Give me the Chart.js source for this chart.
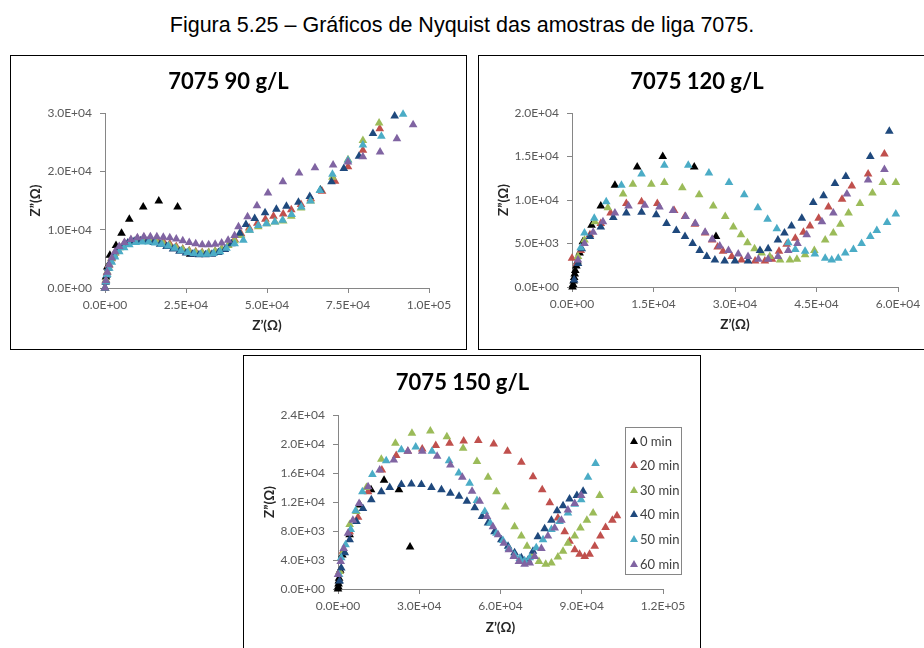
<!DOCTYPE html>
<html>
<head>
<meta charset="utf-8">
<script src="https://cdn.jsdelivr.net/npm/chart.js@4/dist/chart.umd.min.js"></script>
<style>
    html, body { margin: 0; padding: 0; background: #fff; }
    body { width: 924px; height: 648px; position: relative; overflow: hidden; }
    #fig-title {
        position: absolute; left: 0; top: 10px; width: 924px;
        text-align: center; font-family: 'Liberation Sans', Arial, sans-serif;
        font-size: 21.5px; line-height: 30px; color: #000;
    }
    .box { position: absolute; border: 1px solid #000; background: #fff; overflow: hidden; }
    .box canvas { position: absolute; left: 0; top: 0; }
    .legend {
        position: absolute; border: 1px solid #868686; background: #fff;
        font-family: Lato, 'Open Sans', sans-serif; font-size: 13px; color: #404040;
        box-sizing: border-box; padding-top: 0.7px;
    }
    .legend div { height: 24.6px; line-height: 24.6px; position: relative; padding-left: 14px; white-space: nowrap; }
    .legend span.tri {
        position: absolute; left: 4px; top: 8px; width: 0; height: 0;
        border-left: 4px solid transparent; border-right: 4px solid transparent;
        border-bottom: 7px solid #000;
    }
</style>
</head>
<body>
<div id="fig-title">Figura 5.25 – Gráficos de Nyquist das amostras de liga 7075.</div>

<div class="box" style="left:10px; top:55px; width:455px; height:293px;">
    <canvas id="chart90" width="455" height="293"></canvas>
</div>
<div class="box" style="left:478px; top:55px; width:454px; height:293px;">
    <canvas id="chart120" width="454" height="293"></canvas>
</div>
<div class="box" style="left:243px; top:355px; width:456px; height:298px;">
    <canvas id="chart150" width="456" height="298"></canvas>
    <div class="legend" id="legend150" style="left:381px; top:71px; width:57px; height:148px;"></div>
</div>

<script>
const seriesLabels = ['0 min', '20 min', '30 min', '40 min', '50 min', '60 min'];
const seriesColors = ['#000000', '#C0504D', '#9BBB59', '#1F497D', '#4BACC6', '#8064A2'];

// 7075 90 g/L  -  [Z', Z''] em ohm
const g90_0 = [[0,0],[300,1900],[700,3600],[1500,5600],[3400,7300],[5100,9400],[7500,11800],[11800,13900],[16600,14900],[22400,13900],[26300,5800]];
const g90_20 = [[0,0],[200,1200],[600,2600],[1200,3900],[2000,5000],[3000,6000],[4500,7000],[6000,7700],[8000,8200],[10000,8500],[12000,8600],[14000,8500],[16000,8300],[18000,8000],[20000,7600],[22000,7100],[24000,6700],[26000,6400],[28000,6200],[30000,6100],[32000,6100],[34000,6300],[36000,6700],[38000,7300],[40000,8300],[42000,9300],[44500,10300],[47000,11100],[49500,11800],[52000,12300],[55000,12700],[57500,13400],[60500,14300],[63500,15300],[67000,16600],[71000,18300],[75000,20800],[79600,23600],[84800,27300]];
const g90_30 = [[0,0],[300,1400],[700,2800],[1300,4000],[2100,5100],[3200,6000],[4600,6900],[6200,7500],[8000,7900],[10000,8100],[12000,8200],[14000,8100],[16000,7900],[18000,7600],[20000,7300],[22000,6900],[24000,6600],[26000,6300],[28000,6100],[30000,6000],[32000,6100],[34000,6300],[36000,6700],[38000,7300],[40000,8100],[42000,9000],[44500,9900],[47300,10500],[50000,11000],[52500,11300],[55000,11500],[57500,12300],[60500,13700],[63500,14900],[66500,16800],[70200,19000],[75000,22000],[79600,25300],[84600,28300]];
const g90_40 = [[0,0],[200,1000],[500,2200],[1000,3400],[1800,4600],[2800,5600],[4000,6500],[5500,7200],[7000,7700],[9000,8000],[11000,8100],[13000,8000],[15000,7800],[17000,7500],[19000,7100],[21000,6700],[23000,6300],[25000,6000],[27000,5800],[29000,5700],[31000,5700],[33000,5800],[35000,6100],[37000,6600],[39000,7600],[41600,9400],[43500,10900],[46200,11900],[49400,12900],[52900,13500],[56000,14000],[59700,14700],[63200,15700],[66500,16800],[69900,18200],[73700,20500],[78400,22600],[82700,26500],[89400,29500]];
const g90_50 = [[0,0],[300,1100],[700,2300],[1300,3400],[2100,4400],[3100,5300],[4400,6200],[5900,6900],[7500,7400],[9500,7800],[11500,7900],[13500,7900],[15500,7700],[17500,7500],[19500,7200],[21500,6800],[23500,6400],[25500,6100],[27500,5900],[29500,5800],[31500,5800],[33500,5900],[35500,6200],[37500,6800],[40000,7600],[42700,8200],[44700,9900],[47300,10700],[49800,11000],[52400,11300],[54800,11600],[57600,12600],[60600,13900],[63400,14900],[66300,16700],[70200,19500],[75000,21900],[79600,24500],[85300,26000],[92000,29800]];
const g90_60 = [[0,0],[300,1300],[700,2700],[1300,4000],[2100,5200],[3100,6200],[4400,7100],[6000,7800],[8000,8300],[10000,8600],[12000,8800],[14000,8800],[16000,8800],[18000,8700],[20000,8600],[22000,8400],[24000,8100],[26000,7800],[28000,7600],[30000,7400],[32000,7400],[34000,7500],[36000,7700],[38000,8200],[40000,9000],[41200,10500],[44000,12200],[46900,14100],[50300,16300],[54900,18200],[59900,19700],[64800,20600],[70400,21100],[75000,21600],[79600,22500],[84900,23300],[90100,25600],[95100,28000]];

// 7075 120 g/L
const g120_0 = [[100,0],[200,300],[300,700],[400,1100],[500,1500],[600,1900],[800,2400],[1000,2900],[1400,3900],[2000,5200],[3600,7100],[5300,9300],[7900,11700],[12000,13800],[16700,15000],[22500,13800],[26500,5800]];
const g120_20 = [[0,3300],[900,2700],[1600,4200],[3300,6000],[5300,7300],[7100,8500],[10000,9600],[12800,9800],[15700,9600],[18800,8800],[20800,8100],[22600,7200],[24500,6200],[25800,5400],[26800,4600],[27800,4100],[29400,3500],[31200,3100],[33700,3000],[35500,3000],[36800,3200],[38100,4100],[39500,4900],[41100,5600],[42600,6300],[43800,7000],[45400,7900],[47200,9200],[49700,10100],[51500,11600],[54500,13000],[57500,15300]];
const g120_30 = [[1100,3500],[2300,5400],[4200,7500],[6600,9100],[9400,10700],[11200,11800],[14600,11800],[17000,12000],[20300,11400],[23400,10600],[26000,9300],[28200,8100],[29700,6900],[31100,6000],[32300,5100],[33600,4400],[34900,3900],[36400,3500],[38300,3100],[40100,3100],[41400,3200],[42900,3700],[44600,4200],[46600,5400],[48100,6200],[49400,7200],[50900,8500],[53000,9600],[55300,10800],[57200,12000],[59600,12000]];
const g120_40 = [[400,800],[1100,2700],[1800,4400],[3300,5800],[5300,6900],[7600,8000],[10000,8500],[12800,8600],[15500,8300],[17400,7300],[19200,6500],[20800,5800],[22200,5000],[23500,4200],[24800,3500],[26300,3100],[28100,3000],[30000,3000],[32400,3000],[34600,4200],[36100,4400],[37900,5400],[39100,6200],[40400,7000],[42300,7900],[44400,9700],[46300,10500],[48400,11900],[50400,12700],[54900,15000],[58400,17900]];
const g120_50 = [[1600,4500],[2300,6200],[4100,7900],[6300,9800],[9100,11700],[12800,13000],[17000,14000],[21400,14000],[25200,13100],[28900,12000],[31700,10600],[34200,9100],[36000,7800],[37700,6700],[39800,5100],[41100,4300],[42900,4100],[44700,3800],[46600,3300],[47800,3100],[49000,3300],[50300,3900],[51800,4300],[53300,5000],[54900,5800],[56100,6500],[58000,7400],[59600,8400]];
const g120_60 = [[1100,3100],[2300,5000],[3900,6300],[5700,7500],[7900,8500],[10400,9300],[13400,9400],[16100,9200],[18600,8800],[20900,8100],[22700,7300],[24500,6300],[25800,5500],[27200,4700],[28800,4200],[30600,3800],[32400,3500],[34300,3200],[36100,3200],[37900,3500],[39800,4200],[41500,5000],[43200,6000],[46000,7500],[48100,8500],[50600,10700],[54500,12300],[57500,13500]];

// 7075 150 g/L
const g150_0 = [[0,0],[100,300],[200,700],[300,1100],[400,1500],[800,2600],[1600,4700],[4300,7500],[8100,11600],[12200,13700],[17000,15000],[22500,13700],[26600,5800]];
const g150_20 = [[600,2400],[1800,5200],[4300,7900],[7400,9900],[11100,13400],[16200,16400],[21500,18400],[25800,19000],[31100,19300],[36100,19800],[41200,20100],[46400,20400],[51800,20500],[57500,20000],[62600,19000],[67700,17500],[72000,15500],[75400,13700],[78200,11900],[81200,9800],[83700,7900],[85500,6600],[87400,5400],[89200,4800],[91100,4500],[92900,4800],[94800,5900],[96900,7300],[98800,8500],[101300,9500],[103000,10100]];
const g150_30 = [[600,2400],[2100,5200],[4300,8900],[6800,10700],[10500,14000],[16000,17900],[21200,20100],[27300,21500],[34100,21800],[40200,21000],[46200,19400],[51300,17600],[55400,15400],[58500,13400],[61800,11300],[65200,8600],[67700,7300],[69800,5900],[72000,4700],[74200,3800],[76700,3400],[78800,3600],[81200,4400],[83100,5200],[84900,6300],[87400,7300],[89500,8400],[91900,9500],[94200,10500],[96600,12900]];
const g150_40 = [[600,1100],[1200,2900],[2500,5000],[4300,6800],[6800,9300],[9200,11100],[12300,12300],[16000,13400],[19100,14000],[23400,14400],[27100,14500],[30800,14400],[34500,14000],[38200,13700],[41500,13200],[44700,12800],[47600,12100],[50500,11200],[53200,10000],[55400,9100],[57800,7900],[60300,6800],[62800,5900],[65200,5000],[67700,4300],[70200,4000],[72000,5200],[73800,7200],[76300,8300],[78800,9500],[80900,10800],[83100,11500],[85500,12400],[88200,12900],[90500,13500]];
const g150_50 = [[400,2000],[1200,4300],[2800,6100],[4700,8200],[6500,10800],[9000,13400],[12700,15800],[17800,17700],[23400,19200],[28700,19600],[34700,19000],[41000,17700],[44600,16000],[48600,14600],[51300,12200],[54200,10700],[56200,9100],[58500,7700],[60900,6700],[63100,5600],[65200,4700],[67100,4200],[68900,3900],[70800,4300],[73200,5700],[75700,6800],[78800,8200],[81800,9300],[84900,10500],[87400,11700],[89800,12300],[92300,15400],[95100,17300]];
const g150_60 = [[0,2000],[1000,3800],[2100,5600],[3700,7700],[5500,9500],[7800,11800],[11100,14100],[15400,16400],[20600,17800],[25800,19000],[31100,19000],[36600,18300],[41500,17100],[45900,15400],[49500,13500],[52300,12100],[55000,10000],[57200,8600],[59100,7500],[61200,6300],[63100,5400],[64900,4500],[66800,3800],[68900,3400],[70800,3600],[72600,4500],[75100,5600],[77500,7300],[80000,8400],[82500,9500],[84900,10900],[87400,11800],[89800,12900]];

const xTicks90 = { max: 100000, step: 25000 };
const yTicks90 = { max: 30000, step: 10000 };
const xTicks120 = { max: 60000, step: 15000 };
const yTicks120 = { max: 20000, step: 5000 };
const xTicks150 = { max: 120000, step: 30000 };
const yTicks150 = { max: 24000, step: 4000 };

const chartFont = "Lato, 'Open Sans', sans-serif";
const axisColor = '#868686';

function sciLabel(v) {
    const parts = Number(v).toExponential(1).split('e');
    const exp = parts[1];
    return parts[0] + 'E' + exp[0] + exp.slice(1).padStart(2, '0');
}

function buildDatasets(seriesList) {
    return seriesList.map((pts, i) => ({
        label: seriesLabels[i],
        data: pts.map(p => ({ x: p[0], y: p[1] })),
        backgroundColor: seriesColors[i],
        borderColor: seriesColors[i],
        borderWidth: 0,
        pointStyle: 'triangle',
        pointRadius: 5,
        pointHoverRadius: 5,
        showLine: false,
        clip: false,
        order: seriesList.length - i
    }));
}

function makeChart(id, titleText, seriesList, xt, yt, lay) {
    const ctx = document.getElementById(id).getContext('2d');
    return new Chart(ctx, {
        type: 'scatter',
        data: { datasets: buildDatasets(seriesList) },
        options: {
            responsive: false,
            animation: false,
            events: [],
            layout: { padding: { left: lay.left, right: lay.right, top: 0, bottom: lay.bottom } },
            plugins: {
                legend: { display: false },
                tooltip: { enabled: false },
                title: {
                    display: true,
                    text: titleText,
                    color: '#000',
                    font: { family: chartFont, size: 22, weight: 'bold' },
                    padding: { top: lay.titleTop, bottom: lay.titleBottom }
                }
            },
            scales: {
                x: {
                    type: 'linear',
                    min: 0,
                    max: xt.max,
                    afterFit: (scale) => { scale.height = lay.xHeight; },
                    grid: { display: true, drawOnChartArea: false, tickLength: 5, color: axisColor },
                    border: { display: true, color: axisColor, width: 1 },
                    ticks: {
                        stepSize: xt.step, autoSkip: false, maxRotation: 0, padding: 5,
                        color: '#595959', font: { family: chartFont, size: 12 },
                        callback: (v) => sciLabel(v)
                    },
                    title: {
                        display: true, text: 'Z’(Ω)', color: '#262626',
                        font: { family: chartFont, size: 13.5, weight: 'bold' },
                        padding: 0
                    }
                },
                y: {
                    type: 'linear',
                    min: 0,
                    max: yt.max,
                    afterFit: (scale) => { scale.width = lay.yWidth; },
                    grid: { display: true, drawOnChartArea: false, tickLength: 5, color: axisColor },
                    border: { display: true, color: axisColor, width: 1 },
                    ticks: {
                        stepSize: yt.step, autoSkip: false, padding: 8,
                        color: '#595959', font: { family: chartFont, size: 12 },
                        callback: (v) => sciLabel(v)
                    },
                    title: {
                        display: true, text: 'Z”(Ω)', color: '#262626',
                        font: { family: chartFont, size: 13.5, weight: 'bold' },
                        padding: 0
                    }
                }
            }
        }
    });
}

makeChart('chart90', '7075 90 g/L', [g90_0, g90_20, g90_30, g90_40, g90_50, g90_60], xTicks90, yTicks90,
    { left: 17, right: 37, bottom: 15, xHeight: 46, yWidth: 77, titleTop: 13, titleBottom: 17.6 });

makeChart('chart120', '7075 120 g/L', [g120_0, g120_20, g120_30, g120_40, g120_50, g120_60], xTicks120, yTicks120,
    { left: 17, right: 35, bottom: 16, xHeight: 46, yWidth: 76, titleTop: 13, titleBottom: 17.6 });

makeChart('chart150', '7075 150 g/L', [g150_0, g150_20, g150_30, g150_40, g150_50, g150_60], xTicks150, yTicks150,
    { left: 18, right: 37, bottom: 18, xHeight: 47, yWidth: 76, titleTop: 14, titleBottom: 18.6 });

// legend of the 150 g/L chart
const legendEl = document.getElementById('legend150');
seriesLabels.forEach((label, i) => {
    const row = document.createElement('div');
    row.innerHTML = `<span class="tri" style="border-bottom-color:${seriesColors[i]}"></span>${label}`;
    legendEl.appendChild(row);
});
</script>
</body>
</html>
